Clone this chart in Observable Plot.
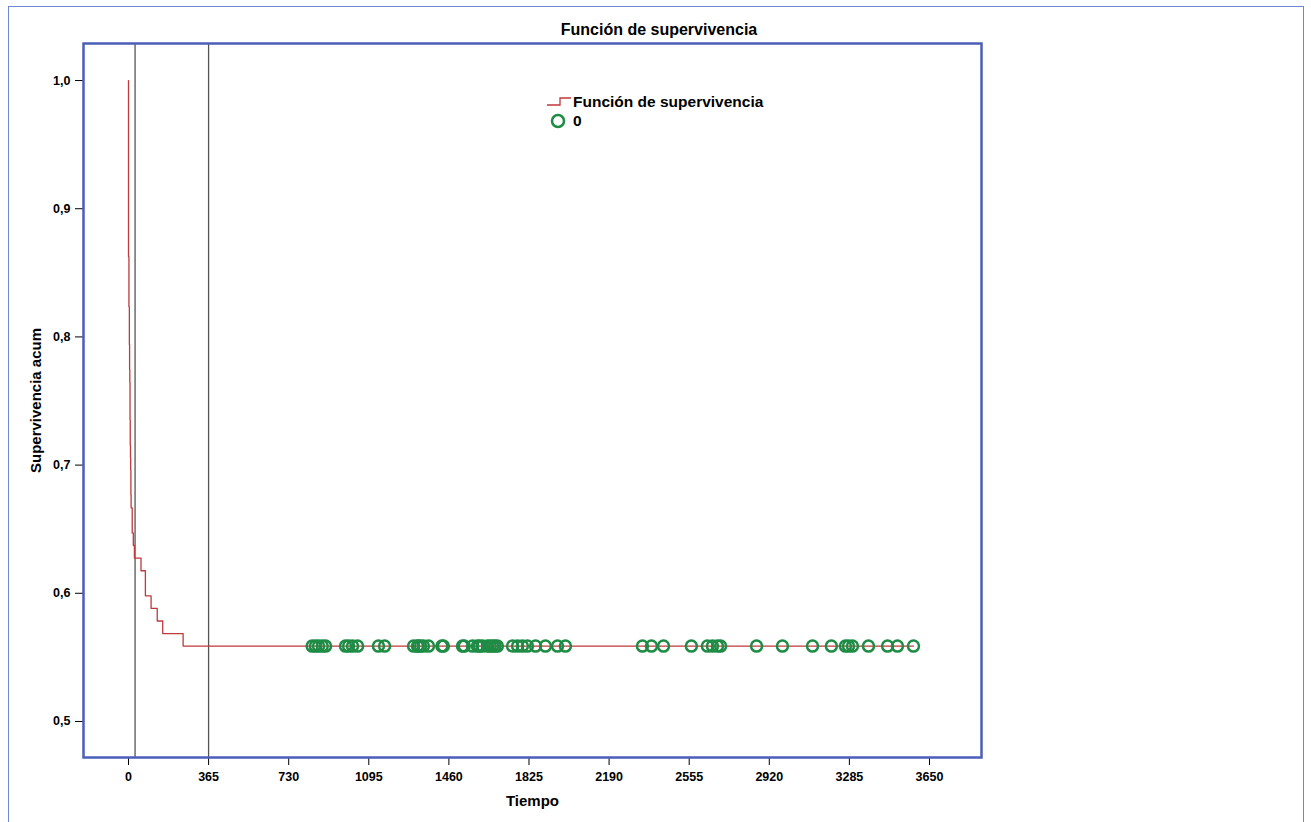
<!DOCTYPE html>
<html>
<head>
<meta charset="utf-8">
<script src="https://cdn.jsdelivr.net/npm/d3@7"></script>
<script src="https://cdn.jsdelivr.net/npm/@observablehq/plot@0.6"></script>
<style>
  html, body { margin: 0; padding: 0; background: #fff; }
  #wrap { position: relative; width: 1311px; height: 822px; overflow: hidden; font-family: "Liberation Sans", Arial, sans-serif; }
  #border { position: absolute; left: 8px; top: 6px; width: 1296px; height: 830px; border: 1px solid #6f87d6; box-sizing: border-box; pointer-events: none; }
  #title { position: absolute; left: 459px; width: 400px; top: 21px; text-align: center; font-size: 16px; font-weight: bold; color: #000; }
  #legend { position: absolute; left: 546px; top: 92px; font-size: 15.5px; font-weight: bold; color: #000; line-height: 19px; }
  #legend .row { display: flex; align-items: center; height: 19px; }
  #legend svg { display: block; margin-right: 1px; }
</style>
</head>
<body>
<div id="wrap">
  <div id="chart"></div>
  <div id="border"></div>
  <div id="title"></div>
  <div id="legend">
    <div class="row"><svg width="26" height="14"><path d="M1,10H14V3H25" fill="none" stroke="#c0393b" stroke-width="1.3"/></svg><span>Función de supervivencia</span></div>
    <div class="row"><svg width="26" height="16"><circle cx="12" cy="8" r="6" fill="none" stroke="#1e8c45" stroke-width="2.5"/></svg><span>0</span></div>
  </div>
</div>
<script>
// Kaplan-Meier event times (days) and cumulative survival after each event
const eventTimes = [0, 2, 4, 5, 6, 7, 8, 9, 10, 11, 12, 17, 22, 27, 57, 77, 103, 131, 156, 249];
const survivalValues = [0.8627, 0.8235, 0.7941, 0.7745, 0.7647, 0.7353, 0.7157, 0.7059, 0.6961, 0.6765, 0.6667, 0.6471, 0.6373, 0.6275, 0.6176, 0.5980, 0.5882, 0.5784, 0.5686, 0.5588];
// Censored observation times (days)
const censoredTimes = [837, 852, 866, 883, 898, 989, 1003, 1021, 1044, 1139, 1167, 1299, 1317, 1320, 1331, 1344, 1367, 1428, 1435, 1522, 1530, 1568, 1590, 1600, 1613, 1636, 1648, 1659, 1670, 1681, 1750, 1773, 1795, 1818, 1855, 1900, 1955, 1991, 2342, 2383, 2438, 2565, 2638, 2661, 2684, 2698, 2862, 2980, 3117, 3203, 3267, 3281, 3299, 3372, 3459, 3504, 3577];
const finalSurvival = 0.5588;
// Reference lines (days)
const refLines = [30, 365];
// Tick values
const xTicks = [0, 365, 730, 1095, 1460, 1825, 2190, 2555, 2920, 3285, 3650];
const yTicks = [0.5, 0.6, 0.7, 0.8, 0.9, 1.0];
const titleText = "Función de supervivencia";
document.getElementById("title").textContent = titleText;

const curve = [{t: 0, s: 1}];
eventTimes.forEach((t, i) => curve.push({t, s: survivalValues[i]}));
curve.push({t: d3.max(censoredTimes), s: finalSurvival});
const censored = censoredTimes.map(t => ({t, s: finalSurvival}));

const fmtY = v => d3.format(".1f")(v).replace(".", ",");
const fmtX = d3.format("d");

const chart = Plot.plot({
  width: 1311,
  height: 822,
  marginLeft: 83,
  marginRight: 330,
  marginTop: 43,
  marginBottom: 65,
  style: {fontFamily: "'Liberation Sans', Arial, sans-serif", fontSize: "13px", color: "#000", background: "transparent"},
  x: {domain: [-205, 3887]},
  y: {domain: [0.4719, 1.0289]},
  marks: [
    Plot.axisX({ticks: xTicks, tickSize: 8, tickPadding: 7, tickFormat: fmtX, fontSize: 12.5, fontWeight: "bold", label: null}),
    Plot.axisX({ticks: [], label: "Tiempo", labelAnchor: "center", labelOffset: 48, labelArrow: "none", fontSize: 15, fontWeight: "bold"}),
    Plot.axisY({ticks: yTicks, tickSize: 8, tickPadding: 5, tickFormat: fmtY, fontSize: 12.5, fontWeight: "bold", label: null}),
    Plot.axisY({ticks: [], label: "Supervivencia acum", labelAnchor: "center", labelOffset: 53, labelArrow: "none", fontSize: 15, fontWeight: "bold"}),
    Plot.ruleX(refLines, {stroke: "#555", strokeWidth: 1.3}),
    Plot.line(curve, {x: "t", y: "s", curve: "step-after", stroke: "#c0393b", strokeWidth: 1.3}),
    Plot.dot(censored, {x: "t", y: "s", r: 5.5, stroke: "#1e8c45", strokeWidth: 2.5, fill: "none"}),
    Plot.frame({stroke: "#4b5fb8", strokeWidth: 2.5})
  ]
});
document.getElementById("chart").appendChild(chart);
</script>
</body>
</html>
